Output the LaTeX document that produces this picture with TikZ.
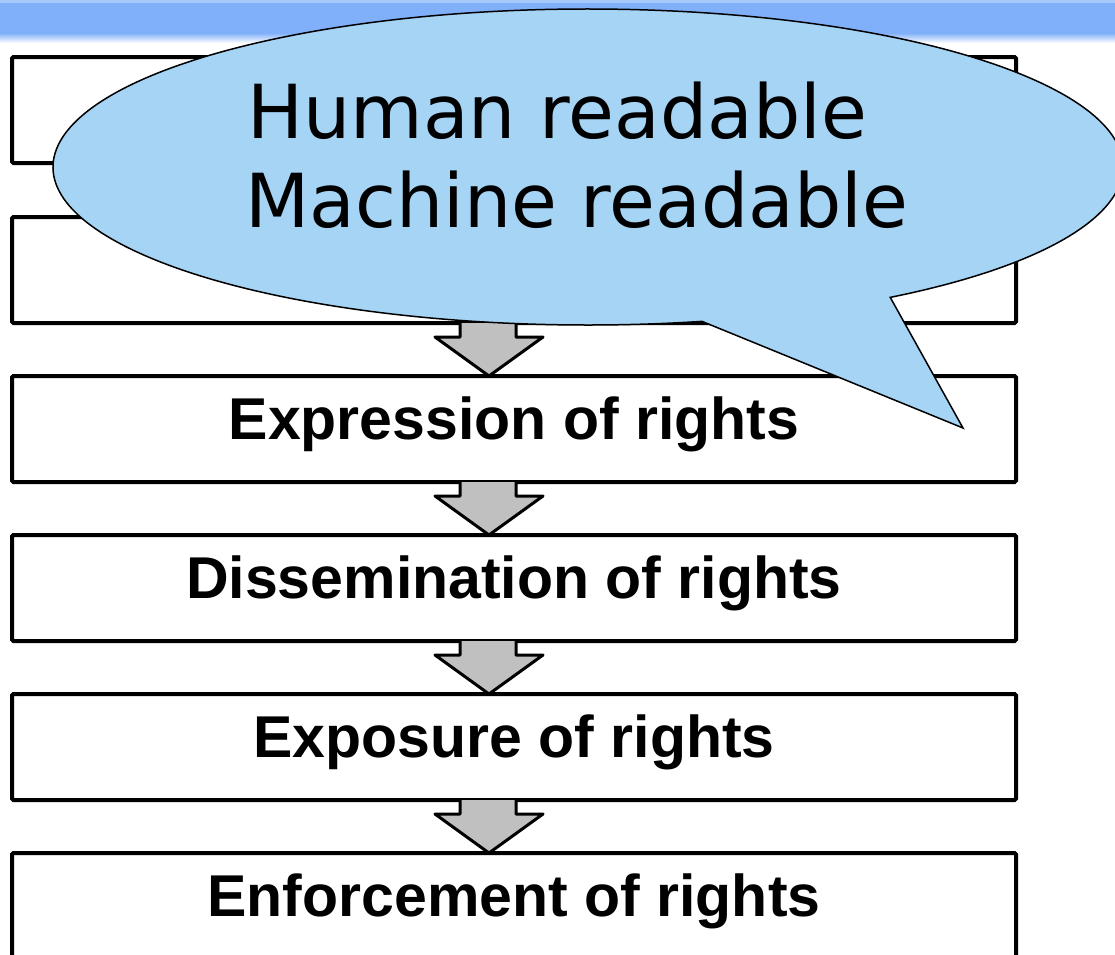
\documentclass[tikz,border=0pt]{standalone}
\usepackage{fontspec}
\usetikzlibrary{calc}
\newfontfamily\boxfont{Liberation Sans}
\newfontfamily\callfont{DejaVu Sans}
\definecolor{bannerblue}{RGB}{128,176,250}
\definecolor{calloutblue}{RGB}{166,212,245}
\definecolor{arrowgray}{RGB}{192,192,192}
\tikzset{
  stepbox/.style={draw=black, line width=4pt, rounded corners=1.5pt, fill=white,
    rectangle, inner sep=0pt, outer sep=0pt, minimum width=1004pt, minimum height=106pt, anchor=north west},
  boxtext/.style={font=\boxfont\bfseries\fontsize{59}{62}\selectfont, anchor=base, inner sep=0pt},
  flowarrow/.style={draw=black, fill=arrowgray, line width=3pt, line join=round},
  callout/.style={draw=black, fill=calloutblue, line width=1.5pt, line join=miter},
  callouttext/.style={font=\callfont\fontsize{74.5}{89}\selectfont, anchor=base west, inner sep=0pt}
}
\begin{document}
\begin{tikzpicture}[x=1pt,y=1pt]
\useasboundingbox (0,0) rectangle (1115,-954);
\clip (0,0) rectangle (1115,-954);
% banner
\fill[bannerblue!70!white] (0,0) rectangle (1115,-3);
\fill[bannerblue] (0,-3) rectangle (1115,-33);
\shade[top color=bannerblue, bottom color=white] (0,-33) rectangle (1115,-43);
% boxes
\node[stepbox] (b1) at (12,-57) {};
\node[stepbox] (b2) at (12,-217) {};
\node[stepbox] (b3) at (12,-376) {};
\node[stepbox] (b4) at (12,-535) {};
\node[stepbox] (b5) at (12,-694) {};
\node[stepbox] (b6) at (12,-853) {};
% texts
\node[boxtext] (t3) at ($(b3.north)+(0,-63)$) {Expression of rights};
\node[boxtext] (t4) at ($(b4.north)+(0,-63)$) {Dissemination of rights};
\node[boxtext] (t5) at ($(b5.north)+(0,-63)$) {Exposure of rights};
\node[boxtext] (t6) at ($(b6.north)+(0,-63)$) {Enforcement of rights};
% arrows
\foreach \a/\b in {b1/b2,b2/b3,b3/b4,b4/b5,b5/b6}{
  \draw[flowarrow] ($(\a.south)+(-54,0)$) -- ++(0,-14) -- ++(-25,0)
     -- ($(\b.north)+(-25,0)$) -- ($(\a.south)+(29,-14)$) -- ++(-27,0)
     -- ($(\a.south)+(2,0)$);
}
% callout
\coordinate (ctr) at (588,-167);
\coordinate (tip) at (963,-428);
\draw[callout] ($(ctr)+({535*cos(-55.6)},{158*sin(-55.6)})$)
   arc[start angle=-55.6, end angle=282.3, x radius=535, y radius=158]
   -- (tip) -- cycle;
\node[callouttext] (h1) at (247,-138) {Human readable};
\node[callouttext] (h2) at (245,-227) {Machine readable};
\end{tikzpicture}
\end{document}
